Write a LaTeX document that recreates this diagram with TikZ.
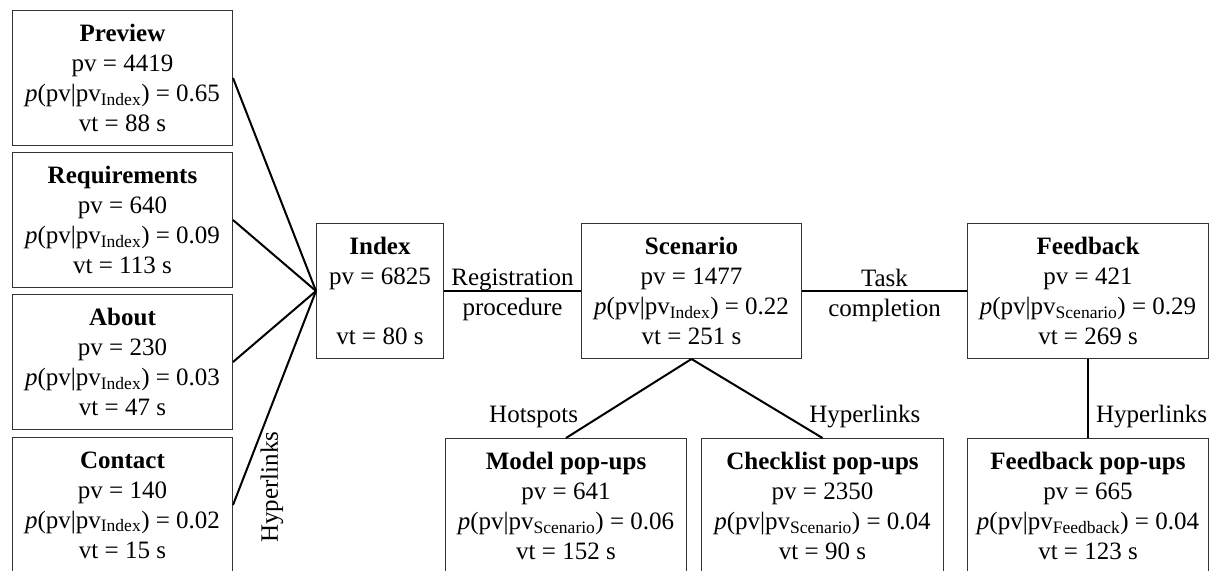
\documentclass[tikz,border=0pt]{standalone}
\usepackage{fontspec}
\setmainfont{Liberation Serif}

\begin{document}
\begin{tikzpicture}[x=1pt,y=-1pt,
  font=\fontsize{25}{30}\selectfont,
  page/.style={draw=black!80,line width=1pt,minimum height=135pt,inner sep=0pt,align=center},
  link/.style={line width=2pt},
  lbl/.style={inner sep=0pt}]
\useasboundingbox (0,0) rectangle (1209,570);
% left column
\node[page,minimum width=220pt,anchor=north west] (preview) at (12,10) {\textbf{Preview}\\pv = 4419\\\textit{p}(pv|pv\textsubscript{Index}) = 0.65\\vt = 88 s};
\node[page,minimum width=220pt,anchor=north west] (requirements) at (12,152) {\textbf{Requirements}\\pv = 640\\\textit{p}(pv|pv\textsubscript{Index}) = 0.09\\vt = 113 s};
\node[page,minimum width=220pt,anchor=north west] (about) at (12,294) {\textbf{About}\\pv = 230\\\textit{p}(pv|pv\textsubscript{Index}) = 0.03\\vt = 47 s};
\node[page,minimum width=220pt,anchor=north west] (contact) at (12,437) {\textbf{Contact}\\pv = 140\\\textit{p}(pv|pv\textsubscript{Index}) = 0.02\\vt = 15 s};
% main row
\node[page,minimum width=127pt,anchor=north west] (index) at (316,223) {\textbf{Index}\\pv = 6825\\[30pt]vt = 80 s};
\node[page,minimum width=220pt,anchor=north west] (scenario) at (581,223) {\textbf{Scenario}\\pv = 1477\\\textit{p}(pv|pv\textsubscript{Index}) = 0.22\\vt = 251 s};
\node[page,minimum width=241pt,anchor=north west] (feedback) at (967,223) {\textbf{Feedback}\\pv = 421\\\textit{p}(pv|pv\textsubscript{Scenario}) = 0.29\\vt = 269 s};
% pop-ups
\node[page,minimum width=241pt,anchor=north west] (modelpop) at (445,438) {\textbf{Model pop-ups}\\pv = 641\\\textit{p}(pv|pv\textsubscript{Scenario}) = 0.06\\vt = 152 s};
\node[page,minimum width=242pt,anchor=north west] (checkpop) at (701,438) {\textbf{Checklist pop-ups}\\pv = 2350\\\textit{p}(pv|pv\textsubscript{Scenario}) = 0.04\\vt = 90 s};
\node[page,minimum width=241pt,anchor=north west] (feedpop) at (967,438) {\textbf{Feedback pop-ups}\\pv = 665\\\textit{p}(pv|pv\textsubscript{Feedback}) = 0.04\\vt = 123 s};
% links
\foreach \p in {preview,requirements,about,contact}
  \draw[link] (\p.east) -- (index.west);
\node[lbl,rotate=90] (hyplinks) at (272,487) {Hyperlinks};
\draw[link] (index) -- node[lbl,align=center,yshift=-4pt] {Registration\\procedure} (scenario);
\draw[link] (scenario) -- node[lbl,align=center,yshift=-4pt] {Task\\completion} (feedback);
\draw[link] (scenario.south) -- node[lbl,pos=0.8,anchor=base east,xshift=-12pt] {Hotspots} (modelpop.north);
\draw[link] (scenario.south) -- node[lbl,pos=0.8,anchor=base west,xshift=12pt] {Hyperlinks} (checkpop.north);
\draw[link] (feedback) -- node[lbl,pos=0.8,anchor=base west,xshift=7pt] {Hyperlinks} (feedpop);
\end{tikzpicture}
\end{document}
